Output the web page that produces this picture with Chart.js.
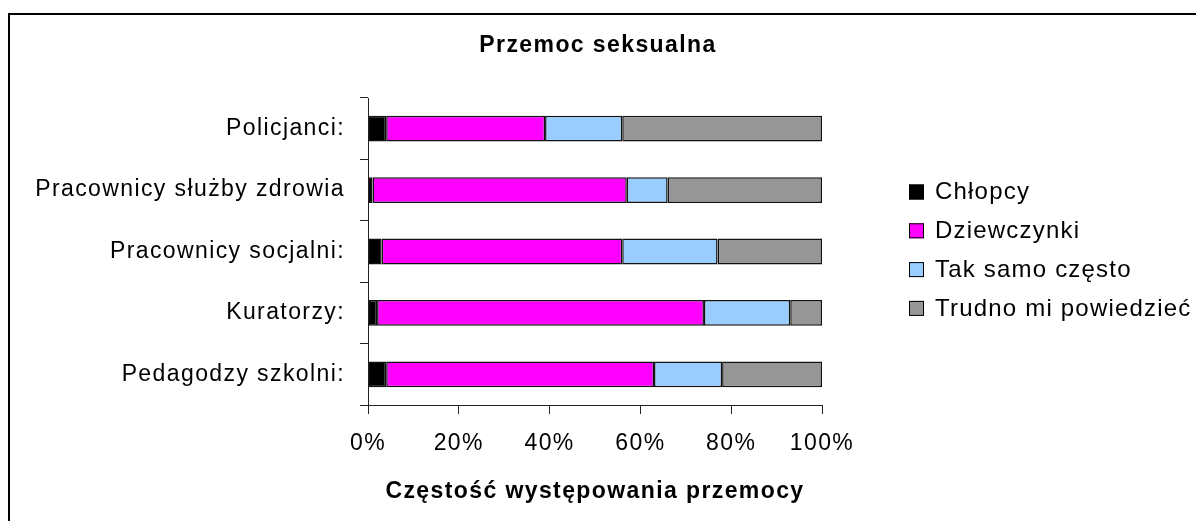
<!DOCTYPE html>
<html>
  <head>
    <title>Przemoc seksualna</title>
    <style>
      body { margin: 0; background: #fff; overflow: hidden; }
      #wrap { position: absolute; left: 0; top: 0; width: 1196px; height: 521px; }
    </style>
  </head>
  <body>
    <div id="wrap">
      <canvas id="chart" width="1196" height="521"></canvas>
    </div>

    <script src="https://cdn.jsdelivr.net/npm/chart.js"></script>
    <script>
      // kategorie (od góry)
      const categories = [
        "Policjanci:",
        "Pracownicy służby zdrowia",
        "Pracownicy socjalni:",
        "Kuratorzy:",
        "Pedagodzy szkolni:",
      ];
      const seriesNames = ["Chłopcy", "Dziewczynki", "Tak samo często", "Trudno mi powiedzieć"];
      const chlopcy = [4, 1, 3, 2, 4];
      const dziewczynki = [35, 56, 53, 72, 59];
      const takSamo = [17, 9, 21, 19, 15];
      const trudno = [44, 34, 23, 7, 22];
      const xTicks = [0, 20, 40, 60, 80, 100];
      const colors = ["#000000", "#FF00FF", "#99CCFF", "#969696"];

      const FONT = "'Liberation Sans', Arial, sans-serif";
      const SIZE = 23;
      const SPACING = "1.4px";

      // odstępy między literami jak w oryginale (Excel)
      const letterSpacing = {
        id: "letterSpacing",
        beforeLayout(chart) { chart.ctx.letterSpacing = SPACING; },
        beforeDraw(chart) { chart.ctx.letterSpacing = SPACING; },
      };

      // ramka wykresu
      const frame = {
        id: "frame",
        beforeDraw(chart) {
          const ctx = chart.ctx;
          ctx.save();
          ctx.fillStyle = "#000";
          ctx.fillRect(8, 13, 2, chart.height);
          ctx.fillRect(8, 13, chart.width, 2);
          ctx.restore();
        },
      };

      // legenda po prawej stronie
      const sideLegend = {
        id: "sideLegend",
        afterDraw(chart) {
          const ctx = chart.ctx;
          ctx.save();
          ctx.letterSpacing = "1.2px";
          ctx.font = "24px " + FONT;
          ctx.textBaseline = "middle";
          ctx.textAlign = "left";
          chart.data.datasets.forEach((ds, i) => {
            const y = 191.5 + i * 38.8;
            ctx.fillStyle = ds.backgroundColor;
            ctx.fillRect(909, y - 7, 15, 15);
            ctx.strokeStyle = "#000";
            ctx.lineWidth = 1;
            ctx.strokeRect(909.5, y - 6.5, 14, 14);
            ctx.fillStyle = "#000";
            ctx.fillText(ds.label, 935, y + 1);
          });
          ctx.restore();
        },
      };

      const values = [chlopcy, dziewczynki, takSamo, trudno];
      const datasets = values.map((v, i) => ({
        label: seriesNames[i],
        data: v,
        backgroundColor: colors[i],
        borderColor: "#111",
        borderWidth: 1.5,
        borderSkipped: false,
        barPercentage: 0.42,
        categoryPercentage: 1,
      }));

      new Chart(document.getElementById("chart"), {
        type: "bar",
        data: { labels: categories, datasets: datasets },
        plugins: [letterSpacing, frame, sideLegend],
        options: {
          indexAxis: "y",
          responsive: false,
          animation: false,
          layout: { padding: 0 },
          plugins: {
            legend: { display: false },
            tooltip: { enabled: false },
            title: {
              display: true,
              text: "Przemoc seksualna",
              color: "#000",
              font: { family: FONT, size: SIZE, weight: "bold" },
              padding: { top: 32, bottom: 38.4 },
            },
          },
          scales: {
            x: {
              stacked: true,
              min: 0,
              max: 100,
              afterBuildTicks(scale) {
                scale.ticks = xTicks.map((v) => ({ value: v }));
              },
              afterFit(scale) { scale.height = 116; },
              ticks: {
                color: "#000",
                padding: 16,
                font: { family: FONT, size: SIZE },
                callback: (v) => v + "%",
              },
              grid: { display: true, drawOnChartArea: false, tickLength: 9, color: "#222" },
              border: { display: true, color: "#222", width: 1 },
              title: {
                display: true,
                text: "Częstość występowania przemocy",
                color: "#000",
                font: { family: FONT, size: SIZE, weight: "bold" },
                padding: { top: 4, bottom: 16 },
              },
            },
            y: {
              stacked: true,
              afterFit(scale) { scale.width = 368; },
              ticks: {
                color: "#000",
                padding: 15,
                font: { family: FONT, size: SIZE },
              },
              grid: { display: true, drawOnChartArea: false, offset: true, tickLength: 8, color: "#222" },
              border: { display: true, color: "#222", width: 1 },
            },
            // puste miejsce na legendę po prawej
            legendSpace: {
              type: "linear",
              axis: "y",
              position: "right",
              min: 0,
              max: 1,
              afterFit(scale) { scale.width = 374; },
              ticks: { display: false },
              grid: { display: false },
              border: { display: false },
            },
          },
        },
      });
    </script>
  </body>
</html>
